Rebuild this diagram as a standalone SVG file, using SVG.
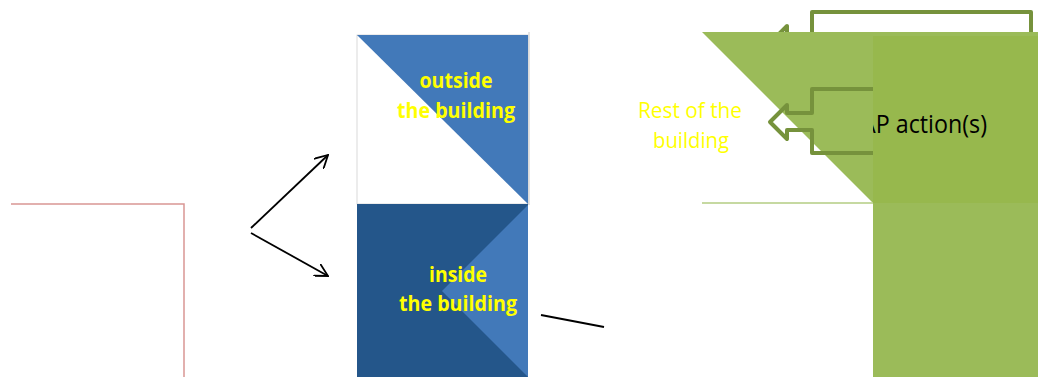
<svg xmlns="http://www.w3.org/2000/svg" width="1038" height="377" viewBox="0 0 1038 377">
<style>
.lbl{font-family:"Open Sans","Liberation Sans",sans-serif;font-weight:bold;font-size:21px;fill:#ffff00;text-anchor:middle}
.rest{font-family:"Open Sans","Liberation Sans",sans-serif;font-size:21px;fill:#ffff00;text-anchor:middle}
.ap{font-family:"Open Sans","Liberation Sans",sans-serif;font-size:25px;fill:#000}
.outl{fill:none;stroke:#76923c;stroke-width:4;stroke-linejoin:round}
.conn{stroke:#000;stroke-width:1.8;fill:none}
</style>
<defs>
<marker id="open" viewBox="0 0 14 14" refX="13" refY="7" markerWidth="14" markerHeight="14" markerUnits="userSpaceOnUse" orient="auto">
<path d="M0,0 L13,7 L0,14" fill="none" stroke="#000" stroke-width="1.8"/>
</marker>
<clipPath id="rclip"><rect x="873" y="0" width="165" height="377"/></clipPath>
</defs>
<rect width="1038" height="377" fill="#fff"/>
<g id="frame">
<path d="M11,204 H184 V377" fill="none" stroke="#d99694" stroke-width="1.5"/>
</g>
<g id="outside">
<rect x="357" y="35" width="171" height="169" fill="#fff" stroke="#d0d0d0" stroke-width="0.8"/>
<polygon points="357,35 528,35 528,204" fill="#4279b9"/>
<line x1="529" y1="32" x2="529" y2="205" stroke="#c8c8c8" stroke-width="1"/>
<text class="lbl" x="456" y="88" textLength="73" lengthAdjust="spacingAndGlyphs">outside</text>
<text class="lbl" x="456" y="118" textLength="118" lengthAdjust="spacingAndGlyphs">the building</text>
</g>
<g id="inside">
<rect x="357" y="204" width="171" height="173" fill="#24568a"/>
<polygon points="528,205 442,291 528,377" fill="#4279b9"/>
<text class="lbl" x="458" y="282" textLength="58" lengthAdjust="spacingAndGlyphs">inside</text>
<text class="lbl" x="458" y="311" textLength="118" lengthAdjust="spacingAndGlyphs">the building</text>
</g>
<g id="rest">
<path class="outl" d="M812,40 V12 H1031 V40"/>
<path class="outl" d="M773,40 L787,26 V40"/>
<polygon points="702,32 1038,32 1038,203 873,203" fill="#9bbb59"/>
<line x1="702" y1="203" x2="873" y2="203" stroke="#b3cc82" stroke-width="1.5"/>
<path class="outl" d="M873,89 H812 V113 H787 V105 L770,122 L787,139 V130 H812 V153 H873"/>
<text class="rest" x="690" y="118" textLength="104" lengthAdjust="spacingAndGlyphs">Rest of the</text>
<text class="rest" x="691" y="148" textLength="76" lengthAdjust="spacingAndGlyphs">building</text>
</g>
<g id="action">
<rect x="873" y="36" width="165" height="167" fill="#97b84d"/>
<rect x="873" y="203" width="165" height="174" fill="#9bbb59"/>
<text class="ap" x="861" y="133" clip-path="url(#rclip)" textLength="126" lengthAdjust="spacingAndGlyphs">AP action(s)</text>
</g>
<g id="connectors">
<line class="conn" x1="251" y1="228" x2="328" y2="155" marker-end="url(#open)"/>
<line class="conn" x1="251" y1="233" x2="328" y2="276" marker-end="url(#open)"/>
<line class="conn" x1="541" y1="315" x2="604" y2="327"/>
</g>
</svg>
